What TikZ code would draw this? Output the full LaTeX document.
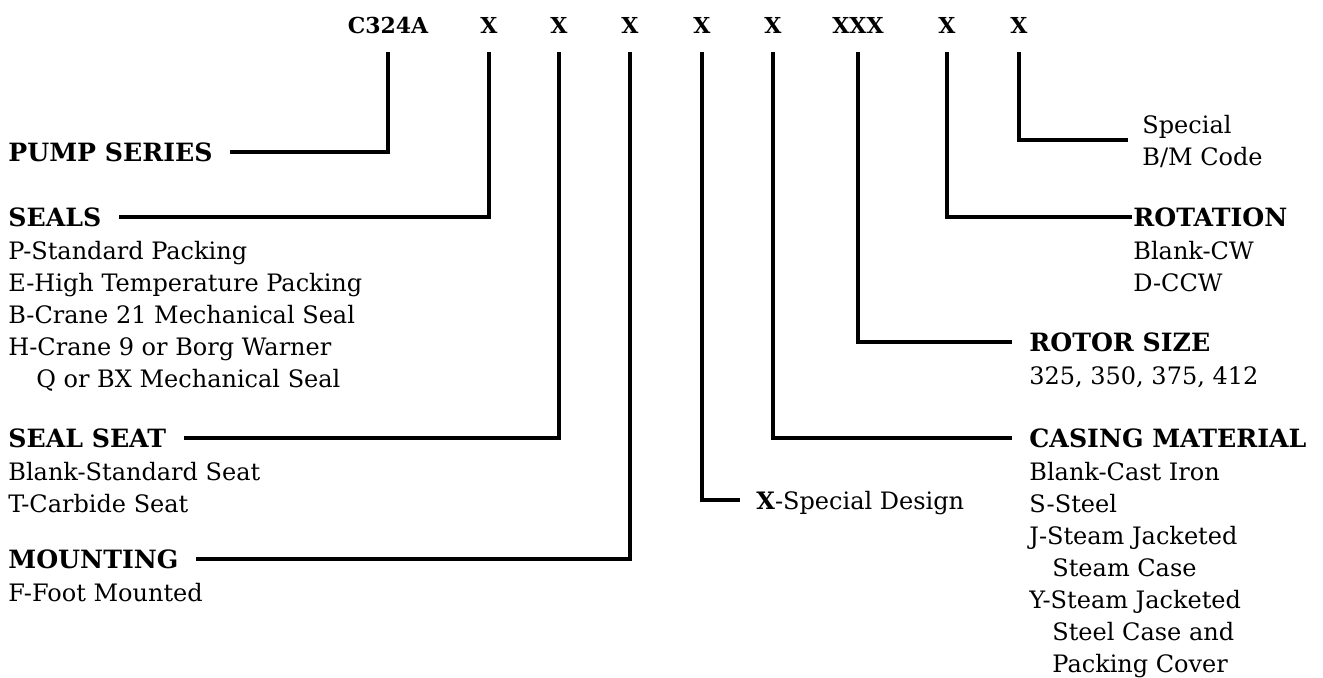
\documentclass[tikz,border=0pt]{standalone}
\usepackage{fontspec}
\setmainfont{DejaVu Serif}
\usetikzlibrary{positioning}

\newcommand{\chartfont}{\fontsize{12}{16}\selectfont}
\newcommand{\headfont}{\fontsize{12.6}{16}\selectfont\bfseries}
\newcommand{\codefont}{\fontsize{11}{16}\selectfont\bfseries}

\tikzset{
  code/.style={font=\codefont, anchor=base, inner xsep=0pt, inner ysep=9.5pt, text depth=0pt},
  head/.style={font=\headfont, anchor=west, inner xsep=8.5pt, inner ysep=0pt, text depth=0pt},
  plain/.style={font=\chartfont, anchor=west, align=left, inner xsep=7pt, inner ysep=0pt, text depth=0pt},
  items/.style={font=\chartfont, align=left, inner xsep=8.5pt, inner ysep=0pt},
  lead/.style={line width=1.7pt},
}

\begin{document}
\begin{tikzpicture}[x=0.5pt, y=-0.5pt]
  \useasboundingbox (0,0) rectangle (1323,677);
  % Model number
  \node[code] (c0) at (388,33) {C324A};
  \node[code] (c1) at (489,33) {X};
  \node[code] (c2) at (559,33) {X};
  \node[code] (c3) at (630,33) {X};
  \node[code] (c4) at (702,33) {X};
  \node[code] (c5) at (773,33) {X};
  \node[code] (c6) at (858,33) {XXX};
  \node[code] (c7) at (947,33) {X};
  \node[code] (c8) at (1019,33) {X};
  % Left column
  \node[head] (pump) at (-9,152) {PUMP SERIES};
  \node[head] (seals) at (-9,217) {SEALS};
  \node[items, below right=4.8pt and 0pt of seals.south west] (sealsopt)
    {\strut P-Standard Packing\\E-High Temperature Packing\\B-Crane 21 Mechanical Seal\\H-Crane 9 or Borg Warner\\\hspace*{14pt}Q or BX Mechanical Seal};
  \node[head] (seat) at (-9,438) {SEAL SEAT};
  \node[items, below right=4.8pt and 0pt of seat.south west] (seatopt)
    {\strut Blank-Standard Seat\\T-Carbide Seat};
  \node[head] (mount) at (-9,559) {MOUNTING};
  \node[items, below right=4.8pt and 0pt of mount.south west] (mountopt)
    {\strut F-Foot Mounted};
  % Right column
  \node[plain] (special) at (1128,140) {Special\\B/M Code};
  \node[head, inner xsep=0.5pt] (rot) at (1132,217) {ROTATION};
  \node[items, inner xsep=0.5pt, below right=4.8pt and 0pt of rot.south west] (rotopt)
    {\strut Blank-CW\\D-CCW};
  \node[head] (rotor) at (1012,342) {ROTOR SIZE};
  \node[items, below right=4.8pt and 0pt of rotor.south west] (rotoropt)
    {\strut 325, 350, 375, 412};
  \node[head] (casing) at (1012,438) {CASING MATERIAL};
  \node[items, below right=4.8pt and 0pt of casing.south west] (casingopt)
    {\strut Blank-Cast Iron\\S-Steel\\J-Steam Jacketed\\\hspace*{11.5pt}Steam Case\\Y-Steam Jacketed\\\hspace*{11.5pt}Steel Case and\\\hspace*{11.5pt}Packing Cover};
  \node[plain, inner xsep=8pt] (xspec) at (740,500) {\textbf{X}-Special Design};
  % Leaders
  \draw[lead] (c0.south) |- (pump.east);
  \draw[lead] (c1.south) |- (seals.east);
  \draw[lead] (c2.south) |- (seat.east);
  \draw[lead] (c3.south) |- (mount.east);
  \draw[lead] (c4.south) |- (xspec.west);
  \draw[lead] (c5.south) |- (casing.west);
  \draw[lead] (c6.south) |- (rotor.west);
  \draw[lead] (c7.south) |- (rot.west);
  \draw[lead] (c8.south) |- (special.west);
\end{tikzpicture}
\end{document}
